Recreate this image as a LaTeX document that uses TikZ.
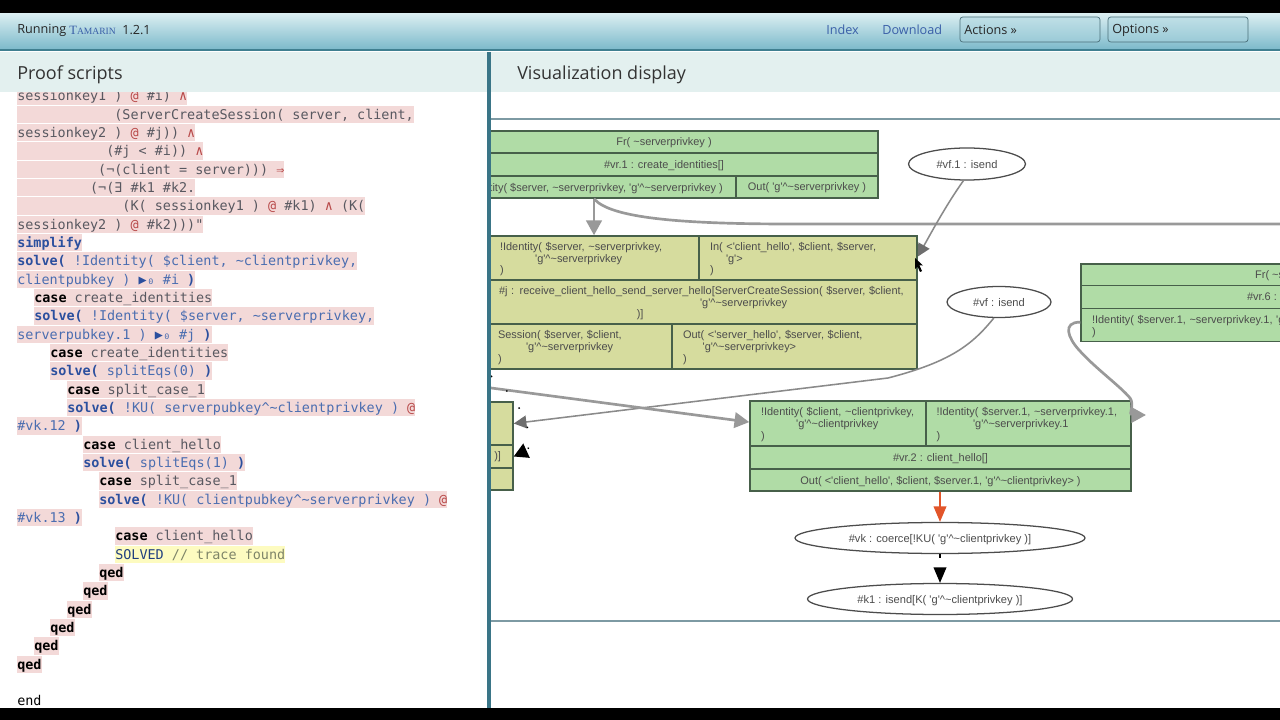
\documentclass[tikz,border=0pt]{standalone}
\usepackage{fontspec}
\usepackage{xcolor}
\usetikzlibrary{shapes.geometric,arrows.meta}
\setmainfont{Open Sans}
\newfontfamily\codefont{DejaVu Sans Mono}
\newfontfamily\graphfont{Liberation Sans}
\newfontfamily\serffont{Liberation Serif}
\definecolor{barlight}{HTML}{DCEFF2}
\definecolor{bardark}{HTML}{7DBACB}
\definecolor{barline}{HTML}{3F7F90}
\definecolor{panelhead}{HTML}{E3F0EF}
\definecolor{divider}{HTML}{3A7587}
\definecolor{rulegray}{HTML}{7D9AA3}
\definecolor{linkblue}{HTML}{3A5FA8}
\definecolor{pinkbg}{HTML}{F3D9D8}
\definecolor{yellowbg}{HTML}{FDFBC0}
\definecolor{codegray}{HTML}{585860}
\definecolor{codeblue}{HTML}{4A6DB0}
\definecolor{keyblue}{HTML}{2B4F9E}
\definecolor{atred}{HTML}{B84A4A}
\definecolor{olivegray}{HTML}{7E8468}
\definecolor{solvednavy}{HTML}{1F3F7F}
\definecolor{greenbox}{HTML}{B0DCA6}
\definecolor{khakibox}{HTML}{D6DC9E}
\definecolor{boxline}{HTML}{47604A}
\definecolor{edgegray}{HTML}{999999}
\definecolor{headgray}{HTML}{6E6E6E}
\definecolor{edgered}{HTML}{E2552A}
\newcommand{\tld}{\textasciitilde}
\newcommand{\crt}{\textasciicircum}
\newcommand{\gexp}{'g'\crt\tld}
\newcommand{\codesize}{\fontsize{9.56pt}{12pt}\selectfont}
\newcommand{\ind}[1]{\hspace*{#1\fontcharwd\font`0}}
\newcommand{\slv}{\textcolor{keyblue}{\bfseries solve(}}
\newcommand{\cls}{\textcolor{keyblue}{\bfseries )}}
\newcommand{\cse}{\textcolor{black}{\bfseries case}}
\newcommand{\ats}{\textcolor{atred}{@}}
\newcommand{\wdg}{\textcolor{atred}{∧}}
\tikzset{
  codeline/.style={anchor=west, inner sep=0pt, text=codegray, font=\codefont\codesize, text height=9.7pt, text depth=2.8pt},
  pinkline/.style={codeline, fill=pinkbg},
  blueline/.style={pinkline, text=codeblue},
  qedline/.style={pinkline, text=black, font=\codefont\codesize\bfseries},
  headtext/.style={anchor=west, inner sep=0pt, text=black!80, font=\fontsize{12.8pt}{14pt}\selectfont},
  bartext/.style={anchor=west, inner sep=0pt, text=black!85, font=\fontsize{9pt}{10pt}\selectfont},
  linktext/.style={bartext, text=linkblue},
  menubutton/.style={draw=bardark!60!black, rounded corners=2pt, top color=barlight!70!bardark, bottom color=bardark!70!barlight, line width=0.5pt},
  cell/.style n args={3}{draw=boxline, line width=1.05pt, fill=#3, inner sep=0pt, minimum width=#1*0.025cm, minimum height=#2*0.025cm, text depth=0pt, text=black!70, font=\graphfont\fontsize{7.8pt}{8.4pt}\selectfont},
  greencell/.style 2 args={cell={#1}{#2}{greenbox}},
  khakicell/.style 2 args={cell={#1}{#2}{khakibox}},
  lefttext/.style={align=left, text width=#1*0.025cm, text depth=, execute at begin node=\rule{0pt}{7.5pt}},
  event/.style 2 args={ellipse, draw=black!70, line width=0.9pt, fill=white, inner sep=0pt, minimum width=#1*0.025cm, minimum height=#2*0.025cm, text depth=0pt, text=black!70, font=\graphfont\fontsize{7.9pt}{8.4pt}\selectfont},
  thickedge/.style={draw=edgegray, line width=1.9pt, -{Triangle[length=10.5pt, width=11pt, color=edgegray]}},
  thinedge/.style={draw=edgegray!90!black, line width=1.1pt, -{Triangle[length=9pt, width=9pt, color=headgray]}},
}
\begin{document}
\begin{tikzpicture}[x=0.025cm, y=-0.025cm]
\useasboundingbox (0,0) rectangle (1280,720);
\fill[white] (0,0) rectangle (1280,720);

%% proof script
\node[pinkline] (l0) at (17,96) {sessionkey1 ) \ats{} \#i) \wdg};
\node[pinkline] (l1) at (17,114.3) {\ind{12}(ServerCreateSession( server, client,};
\node[pinkline] (l2) at (17,132.7) {sessionkey2 ) \ats{} \#j)) \wdg};
\node[pinkline] (l3) at (17,151) {\ind{11}(\#j < \#i)) \wdg};
\node[pinkline] (l4) at (17,169.3) {\ind{10}(¬(client = server))) \textcolor{atred}{⇒}};
\node[pinkline] (l5) at (17,187.7) {\ind{9}(¬(∃ \#k1 \#k2.};
\node[pinkline] (l6) at (17,206) {\ind{13}(K( sessionkey1 ) \ats{} \#k1) \wdg{} (K(};
\node[pinkline] (l7) at (17,224.3) {sessionkey2 ) \ats{} \#k2)))"};
\node[blueline] (l8) at (17,242.7) {\textcolor{keyblue}{\bfseries simplify}};
\node[blueline] (l9) at (17,261) {\slv{} !Identity( \$client, \tld clientprivkey,};
\node[blueline] (l10) at (17,279.3) {clientpubkey ) \textcolor{keyblue}{▶}₀ \#i \cls};
\node[pinkline] (l11) at (34,297.7) {\cse{} create\_identities};
\node[blueline] (l12) at (34,316) {\slv{} !Identity( \$server, \tld serverprivkey,};
\node[blueline] (l13) at (17,334.3) {serverpubkey.1 ) \textcolor{keyblue}{▶}₀ \#j \cls};
\node[pinkline] (l14) at (50,352.7) {\cse{} create\_identities};
\node[blueline] (l15) at (50,371) {\slv{} splitEqs(0) \cls};
\node[pinkline] (l16) at (67,389.3) {\cse{} split\_case\_1};
\node[blueline] (l17) at (67,407.7) {\slv{} !KU( serverpubkey\crt\tld clientprivkey ) \ats};
\node[blueline] (l18) at (17,426) {\#vk.12 \cls};
\node[pinkline] (l19) at (83,444.3) {\cse{} client\_hello};
\node[blueline] (l20) at (83,462.7) {\slv{} splitEqs(1) \cls};
\node[pinkline] (l21) at (99,481) {\cse{} split\_case\_1};
\node[blueline] (l22) at (99,499.3) {\slv{} !KU( clientpubkey\crt\tld serverprivkey ) \ats};
\node[blueline] (l23) at (17,517.7) {\#vk.13 \cls};
\node[pinkline] (l24) at (115,536) {\cse{} client\_hello};
\node[codeline, fill=yellowbg] (l25) at (115,554.3) {\textcolor{solvednavy}{SOLVED} \textcolor{olivegray}{// trace found}};
\node[qedline] (l26) at (99,572.7) {qed};
\node[qedline] (l27) at (83,591) {qed};
\node[qedline] (l28) at (67,609.3) {qed};
\node[qedline] (l29) at (50,627.7) {qed};
\node[qedline] (l30) at (34,646) {qed};
\node[qedline] (l31) at (17,664.3) {qed};
\node[codeline, text=black] (l33) at (17,701) {end};

%% graph
\draw[rulegray, line width=1.1pt] (491,119) -- (1280,119);
\draw[rulegray, line width=1.1pt] (491,621) -- (1280,621);
\begin{scope}
\clip (491,93) rectangle (1280,620);
\node[greencell={428}{22}] (frA) at (664,142) {Fr( \tld serverprivkey )};
\node[greencell={428}{23}] (ruleA) at (664,164.5) {\#vr.1 : create\_identities[]};
\node[greencell={284}{22}] (idA) at (594,187) {!Identity( \$server, \tld serverprivkey, \gexp serverprivkey )};
\node[greencell={142}{22}] (outA) at (807,187) {Out( \gexp serverprivkey )};

\node[khakicell={210}{44}, lefttext=188] (idB) at (594,258) {!Identity( \$server, \tld serverprivkey,\\\hspace*{25pt}\gexp serverprivkey\\)};
\node[khakicell={218}{44}, lefttext=196] (inB) at (808,258) {In( <'client\_hello', \$client, \$server,\\\hspace*{11.4pt}'g'>\\)};
\node[khakicell={428}{44}, lefttext=408] (ruleB) at (703,302) {\#j : receive\_client\_hello\_send\_server\_hello[ServerCreateSession( \$server, \$client,\\\hspace*{143pt}\gexp serverprivkey\\\hspace*{98pt})]};
\node[khakicell={183}{45}, lefttext=165] (sessB) at (580.5,346.5) {Session( \$server, \$client,\\\hspace*{20pt}\gexp serverprivkey\\)};
\node[khakicell={245}{45}, lefttext=223] (outB) at (794.5,346.5) {Out( <'server\_hello', \$server, \$client,\\\hspace*{14pt}\gexp serverprivkey>\\)};

\node[khakicell={83}{43}] (topC) at (471.5,423.5) {};
\node[khakicell={83}{23}, align=right, text width=59*0.025cm, text depth=] (ruleC) at (471.5,456.5) {privkey )]};
\node[khakicell={83}{22}] (outC) at (471.5,479) {};

\node[greencell={176}{45}, lefttext=154] (idD) at (838,423.5) {!Identity( \$client, \tld clientprivkey,\\\hspace*{25pt}\gexp clientprivkey\\)};
\node[greencell={205}{45}, lefttext=184] (id2D) at (1028.5,423.5) {!Identity( \$server.1, \tld serverprivkey.1,\\\hspace*{26pt}\gexp serverprivkey.1\\)};
\node[greencell={381}{23}] (ruleD) at (940.5,457.5) {\#vr.2 : client\_hello[]};
\node[greencell={381}{22}] (outD) at (940.5,480) {Out( <'client\_hello', \$client, \$server.1, \gexp clientprivkey> )};

\node[greencell={452}{22}] (frE) at (1307,275) {Fr( \tld serverprivkey.1 )};
\node[greencell={452}{23}] (ruleE) at (1307,297) {\#vr.6 : create\_identities[]};
\node[greencell={452}{33}, lefttext=430] (idE) at (1307,325) {!Identity( \$server.1, \tld serverprivkey.1, \gexp serverprivkey.1\\)};

\node[event={117}{32}] (vf1) at (967,164) {\#vf.1 : isend};
\node[event={104}{31}] (vf) at (999,302) {\#vf : isend};
\node[event={290}{31}] (vk) at (940,538) {\#vk : coerce[!KU( \gexp clientprivkey )]};
\node[event={265}{31}] (k1) at (940,599) {\#k1 : isend[K( \gexp clientprivkey )]};

\coordinate (leftsrc) at (470,385.2);
\coordinate (rightdst) at (1300,224);
\coordinate (dotsrc) at (491,376);
\path[thickedge] (idA.south) -- (idB.north);
\draw[edgegray, line width=1.9pt] (idA.south) .. controls (610,218) and (680,224) .. (790,224) -- (rightdst);
\path[thinedge] (vf1.258) .. controls (946,205) and (930,235) .. ([yshift=1pt]inB.east);
\path[thinedge] (vf.252) .. controls (972,345) and (950,362) .. (888,378) -- (topC.east);
\path[thickedge] (leftsrc) -- ([yshift=1pt]idD.west);
\path[thickedge] ([yshift=2pt]idE.west) .. controls (1062,322) and (1068,338) .. (1079,350) .. controls (1095,368) and (1120,386) .. (1130,398) .. controls (1135,405) and (1128,415) .. (1146,415);
\path[draw=black, line width=1pt, dash pattern=on 1pt off 14pt, -{Triangle[length=10pt, width=11pt, color=black]}] (dotsrc) .. controls (512,392) and (535,425) .. (528,450) -- (ruleC.east);
\path[draw=edgered, line width=1.1pt, -{Triangle[length=11pt, width=9pt, color=edgered]}] (outD.south -| vk) -- (vk.north);
\path[draw=black, line width=1.1pt, dash pattern=on 3pt off 9pt, -{Triangle[length=11pt, width=9pt, color=black]}] (vk.south) -- (k1.north);
\fill[black] (915,258) -- (915,269) -- (917.5,266.5) -- (920,272) -- (922,271) -- (919.5,265.5) -- (923,265.5) -- cycle;
\end{scope}

%% page frame
\fill[panelhead] (0,52) rectangle (487,92);
\fill[panelhead] (491,52) rectangle (1280,92);
\fill[divider] (487,52) rectangle (491,708);
\shade[top color=barlight, bottom color=bardark] (0,13) rectangle (1280,49);
\fill[barline] (0,49) rectangle (1280,51.5);
\fill[black] (0,0) rectangle (1280,13);
\fill[black] (0,708) rectangle (1280,720);

\node[bartext] (running) at (17,30) {Running};
\node[anchor=west, inner sep=0pt, text=linkblue, font=\serffont\fontsize{9pt}{10pt}\selectfont] (tamarin) at (69,30) {T\fontsize{6.8pt}{8pt}\selectfont AMARIN};
\node[bartext] (version) at (122,30) {1.2.1};
\node[linktext] (index) at (826,30) {Index};
\node[linktext] (download) at (882,30) {Download};
\draw[menubutton] (960,17) rectangle (1100,42);
\node[bartext] (actions) at (964,30) {Actions »};
\draw[menubutton] (1108,17) rectangle (1248,42);
\node[bartext] (options) at (1112,30) {Options »};
\node[headtext] (proof) at (17,74.5) {Proof scripts};
\node[headtext] (visual) at (517,74.5) {Visualization display};
\end{tikzpicture}
\end{document}
